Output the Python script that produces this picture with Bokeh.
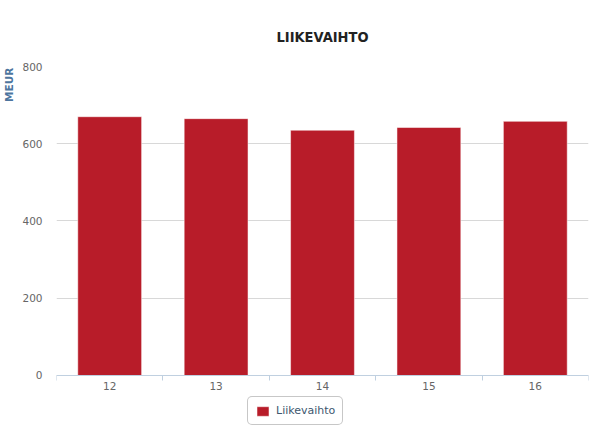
from bokeh.plotting import figure
from bokeh.models import Range1d, FixedTicker, Legend, LegendItem, ColumnDataSource
from bokeh.embed import file_html
from bokeh.resources import INLINE

categories = ["12", "13", "14", "15", "16"]
values = [670, 665, 635, 642, 658]
series_name = "Liikevaihto"
y_ticks = [0, 200, 400, 600, 800]
y_title = "MEUR"

BAR = "#B81C29"
LABEL_FONT = "DejaVu Sans"

# category slots on a numeric axis: slot i spans [i, i+1], bar centred in it
slot_centers = [i + 0.5 for i in range(len(categories))]
slot_edges = list(range(len(categories) + 1))
source = ColumnDataSource(dict(x=slot_centers, top=values, cat=categories))

# frame reaches the bottom of the canvas; the value axis sits at y = 0 inside it,
# leaving room below for the category labels and the legend
p = figure(width=591, height=432, x_range=Range1d(0, len(categories)),
           y_range=Range1d(-147.6, 800),
           output_backend="svg", toolbar_location=None,
           min_border_left=56, min_border_right=3, min_border_top=66, min_border_bottom=0)
p.outline_line_color = None

p.title.text = "LIIKEVAIHTO"
p.title.align = "center"
p.title.text_font = "DejaVu Sans Condensed"
p.title.text_font_size = "14.5px"
p.title.text_font_style = "bold"
p.title.text_color = "#222222"
p.title.standoff = 44

# y axis
yax = p.yaxis[0]
yax.ticker = FixedTicker(ticks=y_ticks)
yax.axis_line_color = None
yax.major_tick_line_color = None
yax.minor_tick_line_color = None
yax.major_label_text_font = LABEL_FONT
yax.major_label_text_font_size = "10.5px"
yax.major_label_text_color = "#666666"
yax.major_label_standoff = 8
# non-breaking padding pushes the visible title down from the top end of the axis
yax.axis_label = y_title + "\u00a0" * 10
yax.axis_label_text_font = LABEL_FONT
yax.axis_label_text_font_size = "10.5px"
yax.axis_label_text_font_style = "bold"
yax.axis_label_text_color = "#4d759e"
yax.axis_label_standoff = 4
try:
    yax.axis_label_align = "end"
except Exception:
    pass

p.ygrid.grid_line_color = "#d8d8d8"
p.ygrid.ticker = FixedTicker(ticks=y_ticks)
p.xgrid.grid_line_color = None

# x axis: fixed at y = 0, labels at slot centres, tick marks at slot edges
xax = p.xaxis[0]
xax.fixed_location = 0
xax.ticker = FixedTicker(ticks=slot_centers, minor_ticks=slot_edges)
xax.major_label_overrides = {c: lab for c, lab in zip(slot_centers, categories)}
xax.axis_line_color = "#C0D0E0"
xax.major_tick_line_color = None
xax.minor_tick_line_color = "#C0D0E0"
xax.minor_tick_out = 5
xax.minor_tick_in = 0
xax.major_tick_out = 0
xax.major_tick_in = 0
xax.major_label_text_font = LABEL_FONT
xax.major_label_text_font_size = "10.5px"
xax.major_label_text_color = "#666666"
xax.major_label_standoff = 2

r = p.vbar(x="x", bottom=0, top="top", width=0.6, source=source, fill_color=BAR,
           line_color="white", line_alpha=0.5, line_width=1)

legend = Legend(items=[LegendItem(label=series_name, renderers=[r])], location=(191, 7),
                orientation="horizontal", border_line_color="#909090", border_line_width=1,
                background_fill_color="white", background_fill_alpha=1.0,
                label_text_color="#3E576F", label_text_font=LABEL_FONT, label_text_font_size="11px",
                glyph_width=15, glyph_height=12, padding=7, margin=0, label_standoff=6)
try:
    legend.border_radius = 5
except Exception:
    pass
p.add_layout(legend)

open("out.html", "w").write(file_html(p, INLINE))
